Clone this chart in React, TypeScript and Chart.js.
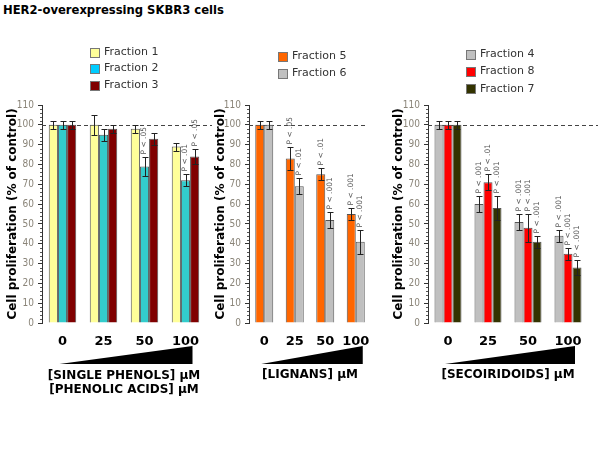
import React, { useEffect, useRef } from "react";
import { Chart, registerables } from "chart.js";

Chart.register(...registerables);

// ---------- data ----------
const doses = ["0", "25", "50", "100"];
const yMax = 110;
const yStep = 10;
const referenceLevel = 100;

const figureTitle = "HER2-overexpressing SKBR3 cells";
const yTitle = "Cell proliferation (% of control)";

// Panel 1: single phenols / phenolic acids
const p1Names = ["Fraction 1", "Fraction 2", "Fraction 3"];
const fraction1 = [100, 100, 98, 89];
const fraction1Err = [2, 5, 2, 2];
const fraction1P = [null, null, null, null];
const fraction2 = [100, 95, 79, 72];
const fraction2Err = [2, 3, 5, 3];
const fraction2P = [null, null, "P < .05", "P < .01"];
const fraction3 = [100, 98, 93, 84];
const fraction3Err = [2, 2, 3, 4];
const fraction3P = [null, null, null, "P < .05"];
const p1XTitle = ["[SINGLE PHENOLS] μM", "[PHENOLIC ACIDS] μM"];

// Panel 2: lignans
const p2Names = ["Fraction 5", "Fraction 6"];
const fraction5 = [100, 83, 75, 55];
const fraction5Err = [2, 6, 3, 3];
const fraction5P = [null, "P < .05", "P < .01", "P < .001"];
const fraction6 = [100, 69, 52, 41];
const fraction6Err = [2, 4, 4, 6];
const fraction6P = [null, "P < .01", "P < .001", "P < .001"];
const p2XTitle = "[LIGNANS] μM";

// Panel 3: secoiridoids
const p3Names = ["Fraction 4", "Fraction 8", "Fraction 7"];
const fraction4 = [100, 60, 51, 44];
const fraction4Err = [2, 4, 4, 3];
const fraction4P = [null, "P < .001", "P < .001", "P < .001"];
const fraction8 = [100, 71, 48, 35];
const fraction8Err = [2, 4, 7, 3];
const fraction8P = [null, "P < .01", "P < .001", "P < .001"];
const fraction7 = [100, 58, 41, 28];
const fraction7Err = [2, 6, 3, 4];
const fraction7P = [null, "P < .001", "P < .001", "P < .001"];
const p3XTitle = "[SECOIRIDOIDS] μM";

// ---------- styles ----------
const FONT = "'DejaVu Sans', Verdana, sans-serif";
const TICK_FONT = "'Liberation Sans Narrow', 'DejaVu Sans Condensed', 'Liberation Sans', sans-serif";

type Series = {
  name: string;
  values: number[];
  errors: number[];
  p: (string | null)[];
  color: string;
  legend: string;
};

type PanelCfg = {
  series: Series[];
  xTitle: string | string[];
  xTitlePad: number;
  padLeft: number;
  padRight: number;
  axisWidth: number;
  catPct: number;
  legendX: number;
  legendY: number;
  legendGap: number;
  refExtend: number;
};

const panels: PanelCfg[] = [
  {
    series: [
      { name: p1Names[0], values: fraction1, errors: fraction1Err, p: fraction1P, color: "#FFFF99", legend: "#FFFF99" },
      { name: p1Names[1], values: fraction2, errors: fraction2Err, p: fraction2P, color: "#33CCCC", legend: "#00CCFF" },
      { name: p1Names[2], values: fraction3, errors: fraction3Err, p: fraction3P, color: "#800000", legend: "#800000" },
    ],
    xTitle: p1XTitle,
    xTitlePad: 6,
    padLeft: 6,
    padRight: 394,
    axisWidth: 36,
    catPct: 0.67,
    legendX: 90,
    legendY: 52,
    legendGap: 16.5,
    refExtend: 6,
  },
  {
    series: [
      { name: p2Names[0], values: fraction5, errors: fraction5Err, p: fraction5P, color: "#FF6600", legend: "#FF6600" },
      { name: p2Names[1], values: fraction6, errors: fraction6Err, p: fraction6P, color: "#C0C0C0", legend: "#C0C0C0" },
    ],
    xTitle: p2XTitle,
    xTitlePad: 21,
    padLeft: 214,
    padRight: 229,
    axisWidth: 35,
    catPct: 0.59,
    legendX: 278,
    legendY: 56,
    legendGap: 17,
    refExtend: -4,
  },
  {
    series: [
      { name: p3Names[0], values: fraction4, errors: fraction4Err, p: fraction4P, color: "#C0C0C0", legend: "#C0C0C0" },
      { name: p3Names[1], values: fraction8, errors: fraction8Err, p: fraction8P, color: "#FF0000", legend: "#FF0000" },
      { name: p3Names[2], values: fraction7, errors: fraction7Err, p: fraction7P, color: "#333300", legend: "#333300" },
    ],
    xTitle: p3XTitle,
    xTitlePad: 21,
    padLeft: 392,
    padRight: 12,
    axisWidth: 36,
    catPct: 0.675,
    legendX: 466,
    legendY: 54,
    legendGap: 17.4,
    refExtend: 10,
  },
];

const decorPlugin = {
  id: "panelDecor",
  beforeDatasetsDraw(chart: any, _args: any, opts: any) {
    const { ctx, chartArea, scales } = chart;
    const ys = scales.y;
    const yRef = Math.round(ys.getPixelForValue(referenceLevel)) + 0.5;
    ctx.save();
    ctx.strokeStyle = "#444";
    ctx.lineWidth = 1;
    ctx.setLineDash([4, 3]);
    ctx.beginPath();
    ctx.moveTo(chartArea.left, yRef);
    ctx.lineTo(chartArea.right + opts.refExtend, yRef);
    ctx.stroke();
    ctx.setLineDash([]);
    ctx.strokeStyle = "#555";
    const ax = Math.round(chartArea.left);
    for (let v = 0; v <= yMax; v += 2) {
      if (v % yStep === 0) continue;
      const py = Math.round(ys.getPixelForValue(v)) + 0.5;
      ctx.beginPath();
      ctx.moveTo(ax - 2, py);
      ctx.lineTo(ax, py);
      ctx.stroke();
    }
    ctx.restore();
  },
  afterDatasetsDraw(chart: any) {
    const { ctx, scales } = chart;
    const ys = scales.y;
    ctx.save();
    chart.data.datasets.forEach((ds: any, di: number) => {
      const meta = chart.getDatasetMeta(di);
      meta.data.forEach((bar: any, i: number) => {
        const v = ds.data[i];
        const e = ds.errors[i];
        const x = Math.round(bar.x) + 0.5;
        const yTop = Math.round(ys.getPixelForValue(v + e)) + 0.5;
        const yBot = Math.round(ys.getPixelForValue(v - e)) + 0.5;
        ctx.strokeStyle = "#222";
        ctx.lineWidth = 1;
        ctx.beginPath();
        ctx.moveTo(x, yTop);
        ctx.lineTo(x, yBot);
        ctx.moveTo(x - 3, yTop);
        ctx.lineTo(x + 3, yTop);
        ctx.moveTo(x - 3, yBot);
        ctx.lineTo(x + 3, yBot);
        ctx.stroke();
        const lbl = ds.pLabels[i];
        if (lbl) {
          ctx.save();
          ctx.translate(bar.x, yTop - 3);
          ctx.rotate(-Math.PI / 2);
          ctx.font = `7.5px ${FONT}`;
          ctx.fillStyle = "#555";
          ctx.textAlign = "left";
          ctx.textBaseline = "middle";
          ctx.fillText(lbl, 0, 0);
          ctx.restore();
        }
      });
    });
    ctx.restore();
  },
  afterDraw(chart: any, _args: any, opts: any) {
    const { ctx, chartArea, scales } = chart;
    const xs = scales.x;
    ctx.save();
    const n = chart.data.labels.length;
    const x0 = xs.getPixelForValue(0) - 3;
    const x1 = xs.getPixelForValue(n - 1) + 7;
    const yT = chartArea.bottom + 23;
    const yB = chartArea.bottom + 41;
    ctx.fillStyle = "#000";
    ctx.beginPath();
    ctx.moveTo(x0, yB);
    ctx.lineTo(x1, yB);
    ctx.lineTo(x1, yT);
    ctx.closePath();
    ctx.fill();
    chart.data.datasets.forEach((ds: any, i: number) => {
      const cy = opts.legendY + i * opts.legendGap;
      const bx = Math.round(opts.legendX) + 0.5;
      const by = Math.round(cy - 4.5) + 0.5;
      ctx.fillStyle = ds.legendColor;
      ctx.fillRect(bx, by, 9, 9);
      ctx.strokeStyle = "#777";
      ctx.lineWidth = 1;
      ctx.strokeRect(bx, by, 9, 9);
      ctx.fillStyle = "#333";
      ctx.font = `11px ${FONT}`;
      ctx.textAlign = "left";
      ctx.textBaseline = "middle";
      ctx.fillText(ds.label, opts.legendX + 14, cy);
    });
    ctx.restore();
  },
};

function Panel({ cfg }: { cfg: PanelCfg }) {
  const ref = useRef<HTMLCanvasElement>(null);
  useEffect(() => {
    const chart = new Chart(ref.current as HTMLCanvasElement, {
      type: "bar",
      data: {
        labels: doses,
        datasets: cfg.series.map((s) => ({
          label: s.name,
          data: s.values,
          errors: s.errors,
          pLabels: s.p,
          legendColor: s.legend,
          backgroundColor: s.color,
          borderColor: "#555",
          borderWidth: 1,
          categoryPercentage: cfg.catPct,
          barPercentage: 1,
        })) as any,
      },
      options: {
        animation: false,
        responsive: false,
        devicePixelRatio: 1,
        layout: { padding: { left: cfg.padLeft, right: cfg.padRight, top: 105, bottom: 47 } },
        plugins: {
          legend: { display: false },
          tooltip: { enabled: false },
          panelDecor: {
            legendX: cfg.legendX,
            legendY: cfg.legendY,
            legendGap: cfg.legendGap,
            refExtend: cfg.refExtend,
          },
        } as any,
        scales: {
          x: {
            grid: { display: false },
            border: { display: false },
            ticks: {
              font: { family: FONT, size: 13, weight: "bold" },
              color: "#000",
              padding: 3,
              maxRotation: 0,
              minRotation: 0,
              autoSkip: false,
            },
            title: {
              display: true,
              text: cfg.xTitle,
              font: { family: FONT, size: 12, weight: "bold" },
              color: "#000",
              padding: { top: 0, bottom: cfg.xTitlePad },
            },
            afterFit: (s: any) => {
              s.height = 80;
            },
          },
          y: {
            min: 0,
            max: yMax,
            ticks: { stepSize: yStep, font: { family: TICK_FONT, size: 10 }, color: "#8a8478", padding: 4 },
            grid: { drawOnChartArea: false, drawTicks: true, tickLength: 4, color: "#333" },
            border: { display: true, color: "#333" },
            title: {
              display: true,
              text: yTitle,
              font: { family: FONT, size: 12, weight: "bold" },
              color: "#000",
              padding: { top: 0, bottom: 0 },
            },
            afterFit: (s: any) => {
              s.width = cfg.axisWidth;
            },
          },
        } as any,
      },
      plugins: [decorPlugin as any],
    });
    return () => chart.destroy();
  }, [cfg]);
  return (
    <canvas
      ref={ref}
      width={600}
      height={450}
      style={{ position: "absolute", left: 0, top: 0, width: 600, height: 450 }}
    />
  );
}

export default function App() {
  return (
    <div
      style={{
        position: "absolute",
        left: 0,
        top: 0,
        width: 600,
        height: 450,
        background: "#fff",
        overflow: "hidden",
      }}
    >
      <div
        style={{
          position: "absolute",
          left: 3,
          top: 4,
          fontFamily: FONT,
          fontWeight: "bold",
          fontSize: 11.6,
          lineHeight: "12px",
          color: "#000",
          whiteSpace: "nowrap",
        }}
      >
        {figureTitle}
      </div>
      {panels.map((p, i) => (
        <Panel key={i} cfg={p} />
      ))}
    </div>
  );
}
